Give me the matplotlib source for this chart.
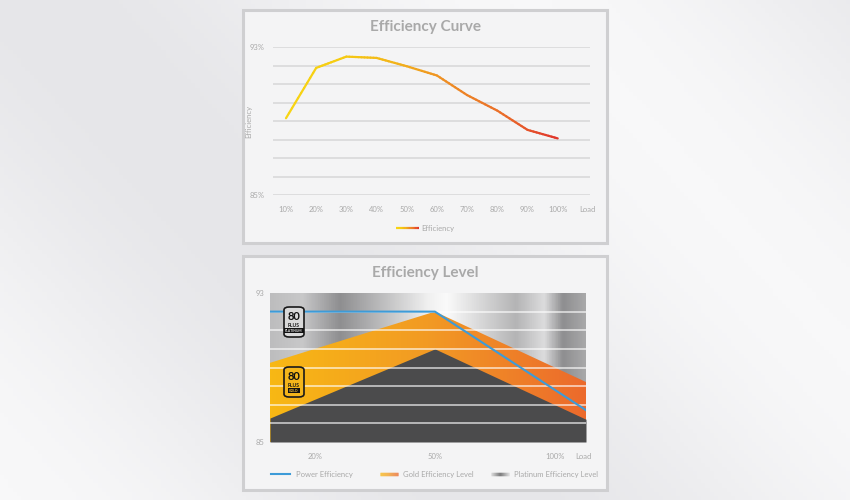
import numpy as np
import matplotlib
matplotlib.use('Agg')
import matplotlib.pyplot as plt
from matplotlib.colors import LinearSegmentedColormap
from matplotlib.collections import LineCollection
from matplotlib.patches import Rectangle, FancyBboxPatch

plt.rcParams['font.family'] = ['Lato', 'DejaVu Sans']

# ---- data: efficiency curve ----
curve_loads = ['10%', '20%', '30%', '40%', '50%', '60%', '70%', '80%', '90%', '100%']
curve_eff = [89.15, 91.87, 92.48, 92.41, 91.96, 91.46, 90.40, 89.56, 88.52, 88.06]

# ---- data: efficiency level ----
level_loads = ['20%', '50%', '100%']
power_eff = [92.0, 92.0, 87.8]
gold_level = [90.0, 92.0, 89.0]
platinum_level = [87.3, 90.0, 87.0]

W, H = 850, 500
fig = plt.figure(figsize=(8.5, 5), dpi=100)
fig.patch.set_facecolor('#ececee')


def box(l, t, r, b):
    return [l / W, 1 - b / H, (r - l) / W, (b - t) / H]


# background sheen
bg = fig.add_axes([0, 0, 1, 1], zorder=-10)
gx, gy = np.meshgrid(np.linspace(0, 1, 200), np.linspace(0, 1, 120))
sheen = 0.5 + 0.5 * np.cos((gx * 1.7 + gy * 0.9) * 3.2)
bg.imshow(sheen, cmap=LinearSegmentedColormap.from_list('bgc', ['#e6e6e9', '#f8f8f9']),
          aspect='auto', extent=[0, 1, 0, 1], origin='lower')
bg.set_axis_off()

# panels
for (l, t, r, b) in [(243, 10, 607, 243), (243, 256, 607, 490)]:
    fig.patches.append(Rectangle((l / W, 1 - b / H), (r - l) / W, (b - t) / H,
                                 transform=fig.transFigure, facecolor='#f4f4f5',
                                 edgecolor='#cfcfd1', lw=2.2, zorder=-5))

grey_txt = '#a9a9a9'

# ================= top chart =================
ax1 = fig.add_axes(box(273, 47, 590, 195))
ax1.set_facecolor('none')
xs = np.arange(len(curve_loads))
ax1.set_xlim(-0.43, 10.07)
ax1.set_ylim(85, 93)
for v in range(85, 94):
    ax1.axhline(v, color='#d6d6d8', lw=1.1, zorder=1)

cmap_curve = LinearSegmentedColormap.from_list(
    'curve', ['#f7d514', '#f6cc12', '#f2b41a', '#ee8c24', '#ea6e2a', '#e0352b'])
segs, cols = [], []
n = len(xs) - 1
for i in range(n):
    for k in range(10):
        a, bb = k / 10, (k + 1) / 10
        x0 = xs[i] + a * (xs[i + 1] - xs[i])
        x1 = xs[i] + bb * (xs[i + 1] - xs[i])
        y0 = curve_eff[i] + a * (curve_eff[i + 1] - curve_eff[i])
        y1 = curve_eff[i] + bb * (curve_eff[i + 1] - curve_eff[i])
        segs.append([(x0, y0), (x1, y1)])
        cols.append(cmap_curve((i + (a + bb) / 2) / n))
ax1.add_collection(LineCollection(segs, colors=cols, lw=1.6, zorder=3, capstyle='round'))

ax1.set_xticks(list(xs) + [10])
ax1.set_xticklabels(curve_loads + ['Load'])
ax1.set_yticks([85, 93])
ax1.set_yticklabels(['85%', '93%'])
ax1.tick_params(length=0, labelsize=5.5, colors=grey_txt, pad=8)
ax1.tick_params(axis='y', pad=6)
for s in ax1.spines.values():
    s.set_visible(False)
ax1.set_ylabel('Efficiency', fontsize=5.5, color=grey_txt, labelpad=-2)
fig.text(425 / W, 1 - 27 / H, 'Efficiency Curve', ha='center', va='center',
         fontsize=11, fontweight='bold', color=grey_txt)

# top legend
lx = np.linspace(396 / W, 419 / W, 20)
ly = 1 - 228 / H
fig.add_artist(LineCollection([[(lx[i], ly), (lx[i + 1], ly)] for i in range(19)],
                              colors=[cmap_curve(i / 18) for i in range(19)], lw=1.6,
                              transform=fig.transFigure))
fig.text(421 / W, ly, 'Efficiency', fontsize=5.5, color=grey_txt, va='center')

# ================= bottom chart =================
ax2 = fig.add_axes(box(270, 293, 586, 442))
x2 = np.arange(len(level_loads))
xl, xr = -0.375, 2.26
ax2.set_xlim(xl, xr)
ax2.set_ylim(85, 93)
ax2.set_facecolor('none')

metal = LinearSegmentedColormap.from_list('metal', [
    (0.0, '#bdbdbe'), (0.1, '#c8c8c9'), (0.22, '#8e8e90'), (0.5, '#f0f0f0'),
    (0.56, '#fafafa'), (0.78, '#b4b4b5'), (0.87, '#dcdcdd'), (0.93, '#8e8e90'),
    (1.0, '#a8a8a9')])
ax2.imshow(np.linspace(0, 1, 400)[None, :], cmap=metal, aspect='auto',
           extent=[xl, xr, 85, 93], zorder=0)


def extend(vals):
    # extend the first and last segment out to the plot edges
    left = vals[0] + (vals[1] - vals[0]) / (x2[1] - x2[0]) * (xl - x2[0])
    right = vals[-1] + (vals[-1] - vals[-2]) / (x2[-1] - x2[-2]) * (xr - x2[-1])
    return [xl] + list(x2) + [xr], [left] + list(vals) + [right]


gxp, gyp = extend(gold_level)
gold_poly = ax2.fill_between(gxp, gyp, 85, color='none', lw=0, zorder=1)
gold_cmap = LinearSegmentedColormap.from_list('gold', ['#f8b814', '#f29a24', '#ec6a2c'])
im = ax2.imshow(np.linspace(0, 1, 300)[None, :], cmap=gold_cmap, aspect='auto',
                extent=[xl, xr, 85, 93], zorder=1)
im.set_clip_path(gold_poly.get_paths()[0], transform=ax2.transData)

pxp, pyp = extend(platinum_level)
ax2.fill_between(pxp, pyp, 85, color='#4b4b4c', lw=0, zorder=2)

for v in range(86, 93):
    ax2.axhline(v, color='white', lw=1.2, alpha=0.7, zorder=3)

bxp, byp = extend(power_eff)
ax2.plot(bxp, byp, color='#3d9bd8', lw=1.5, zorder=4)

ax2.set_xticks(list(x2) + [xr - 0.02])
ax2.set_xticklabels(level_loads + ['Load'])
ax2.set_yticks([85, 93])
ax2.set_yticklabels(['85', '93'])
ax2.tick_params(length=0, labelsize=5.5, colors=grey_txt, pad=8)
ax2.tick_params(axis='y', pad=4)
for s in ax2.spines.values():
    s.set_visible(False)
fig.text(425 / W, 1 - 273 / H, 'Efficiency Level', ha='center', va='center',
         fontsize=11, fontweight='bold', color=grey_txt)


# 80 PLUS badges
def badge(l, t, r, b, face, band, label):
    fig.patches.append(FancyBboxPatch((l / W, 1 - b / H), (r - l) / W, (b - t) / H,
                                      boxstyle='round,pad=0,rounding_size=0.006',
                                      transform=fig.transFigure, facecolor=face,
                                      edgecolor='#1a1a1a', lw=1.2, zorder=5))
    cx = (l + r) / 2 / W
    fig.text(cx, 1 - (t + 9) / H, '80', ha='center', va='center', fontsize=8,
             fontweight='bold', color='#111111', zorder=6)
    fig.text(cx, 1 - (t + 18.5) / H, 'PLUS', ha='center', va='center', fontsize=3.6,
             fontweight='bold', color='#111111', zorder=6)
    fig.text(cx, 1 - (t + 23.5) / H, label, ha='center', va='center', fontsize=2.4,
             fontweight='bold', color=band, zorder=6,
             bbox=dict(facecolor='#111111', edgecolor='none', pad=0.6))


badge(284, 307, 304, 337, '#d9d9d9', '#e6e6e6', 'PLATINUM')
badge(284, 367, 304, 397, '#f4b51a', '#f4c040', 'GOLD')

# bottom legend
ly2 = 1 - 474 / H
fig.add_artist(plt.Line2D([271 / W, 290 / W], [ly2, ly2], color='#3d9bd8', lw=1.5,
                          transform=fig.transFigure))
fig.text(296 / W, ly2, 'Power Efficiency', fontsize=5.5, color=grey_txt, va='center')


def grad_key(x0, x1, cmap):
    xx = np.linspace(x0 / W, x1 / W, 20)
    fig.add_artist(LineCollection([[(xx[i], ly2), (xx[i + 1], ly2)] for i in range(19)],
                                  colors=[cmap(i / 18) for i in range(19)], lw=2.5,
                                  transform=fig.transFigure))


grad_key(380, 398, gold_cmap)
fig.text(403 / W, ly2, 'Gold Efficiency Level', fontsize=5.5, color=grey_txt, va='center')
grad_key(491, 509, LinearSegmentedColormap.from_list('pk', ['#d0d0d0', '#4b4b4c', '#d0d0d0']))
fig.text(514 / W, ly2, 'Platinum Efficiency Level', fontsize=5.5, color=grey_txt, va='center')

fig.savefig('out.png', dpi=100, facecolor=fig.get_facecolor())
